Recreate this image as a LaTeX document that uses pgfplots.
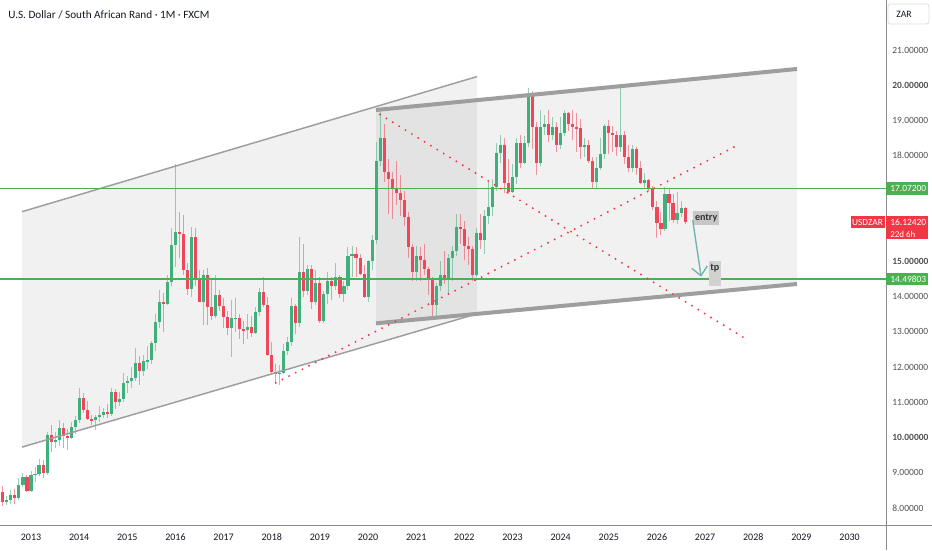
\documentclass[border=0pt]{standalone}
\usepackage{pgfplots}
\pgfplotsset{compat=1.18}
\usepackage{pgfplotstable}
\usepackage{fontspec}
\setmainfont{Carlito}
\definecolor{upc}{HTML}{40AF7C}
\definecolor{dnc}{HTML}{F0465A}
\definecolor{hlc}{HTML}{4CAF50}
\definecolor{lbl}{HTML}{F23645}
\definecolor{chan}{HTML}{9E9E9E}
\definecolor{axc}{HTML}{8A8A8A}
\definecolor{tickc}{HTML}{505050}
\definecolor{arrowc}{HTML}{6DB3AE}
\definecolor{titlec}{HTML}{131722}

\pgfplotstableread{
x o h l c
-8 7.77 8.55 7.72 8.46
-6 8.17 8.35 8.08 8.22
-5 8.22 8.50 8.12 8.38
-3 8.28 8.85 8.22 8.66
-2 8.66 9.00 8.60 8.88
0 8.48 9.05 8.45 8.95
1 8.95 9.15 8.75 8.97
2 8.97 9.40 8.90 9.22
4 9.00 10.15 8.95 10.07
6 9.88 10.15 9.70 9.94
7 9.94 10.50 9.75 10.27
10 10.00 10.45 9.95 10.30
11 10.30 10.60 10.10 10.50
12 10.50 11.40 10.40 11.12
16 10.49 10.65 10.20 10.57
17 10.57 10.90 10.45 10.64
18 10.64 10.85 10.55 10.73
20 10.67 11.40 10.60 11.28
22 11.00 11.30 10.90 11.10
23 11.10 11.82 11.00 11.56
24 11.56 11.75 11.25 11.60
25 11.60 12.00 11.40 11.68
26 11.68 12.55 11.60 12.12
28 11.88 12.35 11.75 12.17
29 12.17 12.60 11.95 12.20
30 12.20 12.75 12.10 12.67
31 12.67 13.50 12.45 13.29
32 13.29 14.20 13.10 13.86
34 13.80 14.60 13.75 14.42
35 14.42 15.95 14.30 15.47
36 15.47 17.75 14.85 15.84
40 14.22 15.98 14.00 15.69
43 13.86 14.75 13.20 14.60
46 13.45 14.61 13.40 14.05
50 13.10 13.90 12.29 13.38
51 13.38 13.95 13.00 13.40
54 13.05 13.50 12.80 13.15
56 12.98 13.70 12.95 13.55
57 13.55 14.25 13.45 14.13
62 11.80 12.05 11.50 11.84
63 11.84 12.65 11.80 12.45
64 12.45 12.85 12.35 12.70
65 12.70 13.95 12.60 13.72
67 13.25 15.69 13.15 14.70
69 14.15 14.90 14.05 14.77
71 13.85 14.75 13.75 14.38
73 13.30 14.15 13.25 14.08
74 14.08 14.70 13.80 14.45
76 14.30 14.95 14.20 14.55
78 14.08 14.45 13.85 14.30
79 14.30 15.40 14.20 15.16
80 15.16 15.45 14.55 15.20
84 14.00 15.05 13.85 15.00
85 15.00 15.75 14.75 15.60
86 15.60 18.40 15.50 17.85
87 17.85 19.35 17.70 18.50
96 14.70 15.45 14.45 15.15
101 13.75 14.40 13.45 14.30
102 14.30 15.00 14.15 14.62
104 14.52 15.20 14.05 15.10
105 15.10 15.45 14.45 15.30
106 15.30 16.35 15.15 15.98
111 14.60 15.95 14.55 15.80
113 15.60 16.45 15.20 16.30
114 16.30 17.30 16.05 16.55
115 16.55 17.35 16.30 17.12
116 17.12 18.35 17.00 18.07
117 18.07 18.60 17.80 18.30
120 16.98 17.75 16.95 17.40
121 17.40 18.50 17.20 18.35
123 17.78 18.55 17.75 18.35
124 18.35 19.91 18.25 19.72
127 17.78 19.30 17.70 18.82
128 18.82 19.15 18.60 18.90
130 18.60 19.10 18.45 18.80
132 18.30 19.10 18.20 18.65
133 18.65 19.30 18.55 19.20
138 18.25 18.50 17.95 18.30
141 17.25 17.95 17.05 17.65
142 17.65 18.50 17.60 18.05
143 18.05 18.90 17.90 18.85
147 18.25 19.93 18.10 18.60
150 17.65 18.30 17.55 18.18
153 17.23 17.50 17.05 17.31
158 15.91 17.12 15.85 16.91
161 16.17 16.98 16.05 16.36
162 16.36 16.70 16.25 16.51
}\up

\pgfplotstableread{
x o h l c
-7 8.46 8.62 8.05 8.17
-4 8.38 8.55 8.10 8.28
-1 8.88 8.95 8.45 8.48
3 9.22 9.35 8.85 9.00
5 10.07 10.36 9.60 9.88
8 10.27 10.40 9.70 10.05
9 10.05 10.25 9.65 10.00
13 11.12 11.25 10.70 10.78
14 10.78 11.05 10.50 10.53
15 10.53 10.65 10.35 10.49
19 10.73 10.95 10.55 10.67
21 11.28 11.38 10.80 11.00
27 12.12 12.30 11.50 11.88
33 13.86 14.10 13.00 13.80
37 15.84 16.41 15.10 15.78
38 15.78 16.32 14.60 14.76
39 14.76 14.95 14.05 14.22
41 15.69 15.95 14.30 14.50
42 14.50 14.75 13.85 13.86
44 14.60 14.80 13.20 13.70
45 13.70 14.50 13.35 13.45
47 14.05 14.20 13.60 13.72
48 13.72 13.95 13.10 13.43
49 13.43 13.60 12.90 13.10
52 13.40 13.50 12.80 13.08
53 13.08 13.30 12.65 13.05
55 13.15 13.45 12.85 12.98
58 14.13 14.55 13.70 13.75
59 13.75 14.00 12.30 12.35
60 12.35 12.70 11.80 11.85
61 11.85 12.10 11.55 11.80
66 13.72 13.80 12.95 13.25
68 14.70 15.50 14.00 14.15
70 14.77 14.90 13.65 13.85
72 14.38 14.55 13.25 13.30
75 14.45 14.55 13.90 14.30
77 14.55 14.60 13.95 14.08
81 15.20 15.40 14.55 15.10
82 15.10 15.20 14.60 14.65
83 14.65 14.90 13.95 14.00
88 18.50 18.90 17.25 17.55
89 17.55 17.90 16.35 17.35
90 17.35 17.55 16.20 17.05
91 17.05 17.85 16.60 16.95
92 16.95 17.45 16.30 16.75
93 16.75 17.00 16.00 16.25
94 16.25 16.40 15.10 15.40
95 15.40 15.50 14.45 14.70
97 15.15 15.40 14.45 15.05
98 15.05 15.50 14.60 14.78
99 14.78 14.85 14.05 14.50
100 14.50 14.55 13.40 13.75
103 14.62 15.30 14.35 14.52
107 15.98 16.35 15.50 15.93
108 15.93 16.15 15.05 15.45
109 15.45 15.70 14.90 15.35
110 15.35 15.45 14.45 14.60
112 15.80 16.35 15.35 15.60
118 18.30 18.50 16.95 17.22
119 17.22 17.90 16.90 16.98
122 18.35 18.60 17.65 17.78
125 19.72 19.85 18.20 18.82
126 18.82 18.95 17.45 17.78
129 18.90 19.30 18.40 18.60
131 18.80 18.95 18.10 18.30
134 19.20 19.25 18.70 18.90
135 18.90 19.30 18.45 18.80
136 18.80 19.20 18.10 18.78
137 18.78 19.05 17.90 18.25
139 18.30 18.45 17.80 17.85
140 17.85 17.95 17.05 17.25
144 18.85 19.00 18.05 18.65
145 18.65 18.85 18.10 18.60
146 18.60 18.70 18.00 18.25
148 18.60 18.70 17.75 17.97
149 17.97 18.30 17.55 17.65
151 18.18 18.25 17.45 17.64
152 17.64 17.85 17.20 17.23
154 17.31 17.35 17.00 17.07
155 17.07 17.15 16.45 16.53
156 16.53 16.70 15.66 16.08
157 16.08 16.40 15.75 15.91
159 16.91 17.05 16.15 16.65
160 16.65 16.90 16.10 16.17
163 16.51 16.55 16.05 16.12
}\dn

\pgfplotsset{
  candle/.style={only marks, mark=*, mark size=0pt, mark options={draw=none, fill=none}, forget plot,
    error bars/.cd, y dir=both, y explicit, error mark=none},
}

\begin{document}
\begin{tikzpicture}
\useasboundingbox (0pt,0pt) rectangle (699pt,412.5pt);
\fill[white] (0pt,0pt) rectangle (699pt,412.5pt);
\begin{axis}[
  at={(0pt,18.75pt)}, anchor=south west,
  scale only axis, width=664.5pt, height=393.75pt,
  xmin=-7.726, xmax=213.08, ymin=7.517, ymax=22.419,
  axis line style={draw=none},
  tick style={draw=none}, major tick length=0pt,
  xtick={0,12,24,36,48,60,72,84,96,108,120,132,144,156,168,180,192,204},
  xticklabels={2013,2014,2015,2016,2017,2018,2019,2020,2021,2022,2023,2024,2025,2026,2027,2028,2029,2030},
  xticklabel style={anchor=center, yshift=-9pt, font=\fontsize{7.5}{8}\selectfont, text=titlec},
  ytick={8,9,10,11,12,13,14,15,18,19,20,21},
  yticklabels={8.00000,9.00000,\textbf{10.00000},11.00000,12.00000,13.00000,14.00000,\textbf{15.00000},18.00000,19.00000,\textbf{20.00000},21.00000},
  yticklabel pos=right,
  yticklabel style={anchor=west, inner sep=0pt, xshift=4.5pt, font=\fontsize{7.1}{8}\selectfont, text=tickc},
]
% channel fills
\addplot[draw=none, fill=black, fill opacity=0.055, forget plot]
  coordinates {(-2.243,16.410) (111.15,20.245) (111.15,13.512) (-2.243,9.728)} -- cycle;
\addplot[draw=none, fill=black, fill opacity=0.055, forget plot]
  coordinates {(85.98,19.297) (190.90,20.461) (190.90,14.358) (85.98,13.242)} -- cycle;
% wicks
\addplot[candle, error bar style={line width=0.75pt, draw=upc, draw opacity=0.55}]
  table[x=x, y expr={(\thisrow{h}+\thisrow{l})/2}, y error expr={(\thisrow{h}-\thisrow{l})/2}] {\up};
\addplot[candle, error bar style={line width=0.75pt, draw=dnc, draw opacity=0.55}]
  table[x=x, y expr={(\thisrow{h}+\thisrow{l})/2}, y error expr={(\thisrow{h}-\thisrow{l})/2}] {\dn};
% bodies
\addplot[candle, error bar style={line width=2.3pt, draw=upc}]
  table[x=x, y expr={(\thisrow{o}+\thisrow{c})/2}, y error expr={abs(\thisrow{c}-\thisrow{o})/2}] {\up};
\addplot[candle, error bar style={line width=2.3pt, draw=dnc}]
  table[x=x, y expr={(\thisrow{o}+\thisrow{c})/2}, y error expr={abs(\thisrow{c}-\thisrow{o})/2}] {\dn};
% channel lines
\addplot[chan, line width=1.1pt, forget plot] coordinates {(-2.243,16.410) (111.15,20.245)};
\addplot[chan, line width=1.1pt, forget plot] coordinates {(-2.243,9.728) (111.15,13.512)};
\addplot[chan, line width=3pt, forget plot] coordinates {(85.98,19.297) (190.90,20.461)};
\addplot[chan, line width=3pt, forget plot] coordinates {(85.98,13.242) (190.90,14.358)};
% horizontal levels
\addplot[draw=hlc, line width=0.85pt, forget plot] coordinates {(-7.726,17.072) (213.08,17.072)};
\addplot[draw=hlc, line width=0.85pt, forget plot] coordinates {(-7.726,14.49803) (213.08,14.49803)};
% dotted red lines
\addplot[draw=lbl, line width=1.6pt, line cap=round, dash pattern=on 0pt off 5.6pt, forget plot]
  coordinates {(86.98,19.169) (177.52,12.845)};
\addplot[draw=lbl, line width=1.6pt, line cap=round, dash pattern=on 0pt off 5.6pt, forget plot]
  coordinates {(61.01,11.551) (175.88,18.284)};
\end{axis}
\begin{scope}[x=0.75pt,y=0.75pt]
% frame lines
\draw[axc, line width=0.75pt] (886,0) -- (886,550);
\draw[axc, line width=0.75pt] (0,25) -- (932,25);
% title
\node[anchor=west, inner sep=0pt, text=titlec, font=\fontsize{8.4}{10}\selectfont] at (8,535) {U.S. Dollar / South African Rand · 1M · FXCM};
% ZAR box
\draw[gray!25, rounded corners=2pt, line width=0.6pt] (888,526) rectangle (929,546);
\node[anchor=west, inner sep=0pt, text=titlec, font=\fontsize{7.3}{8}\selectfont] at (896,535.5) {ZAR};
% level labels
\fill[hlc] (886,355) rectangle (928,367.5);
\node[anchor=west, inner sep=0pt, text=white, font=\fontsize{7.1}{8}\selectfont] at (890,361.3) {17.07200};
\fill[hlc] (886,264.5) rectangle (928,277);
\node[anchor=west, inner sep=0pt, text=white, font=\fontsize{7.1}{8}\selectfont] at (890,270.7) {14.49803};
\fill[lbl] (886,310.5) rectangle (928,333.5);
\node[anchor=west, inner sep=0pt, text=white, font=\fontsize{7.1}{7}\selectfont] at (890,327.5) {16.12420};
\node[anchor=west, inner sep=0pt, text=white, font=\fontsize{6.7}{7}\selectfont] at (890,316) {22d 6h};
\fill[lbl] (850.5,321.5) rectangle (884.5,333.5);
\node[inner sep=0pt, text=white, font=\fontsize{7}{8}\selectfont] at (867.5,327.5) {USDZAR};
% entry / tp annotations
\fill[black!22] (693.3,325) rectangle (719,339.3);
\node[inner sep=0pt, text=black!80, font=\bfseries\fontsize{7.6}{8}\selectfont] at (706.2,332.3) {entry};
\fill[black!18] (709,264.3) rectangle (720.7,289.3);
\node[inner sep=0pt, text=black!80, font=\bfseries\fontsize{7.6}{8}\selectfont] at (714.8,282) {tp};
\draw[arrowc, line width=1pt] (692.7,330) -- (701,274.3);
\draw[arrowc, line width=1pt, line join=round] (691.7,281.7) -- (701,274.3) -- (707.3,284);
\end{scope}
\end{tikzpicture}
\end{document}
